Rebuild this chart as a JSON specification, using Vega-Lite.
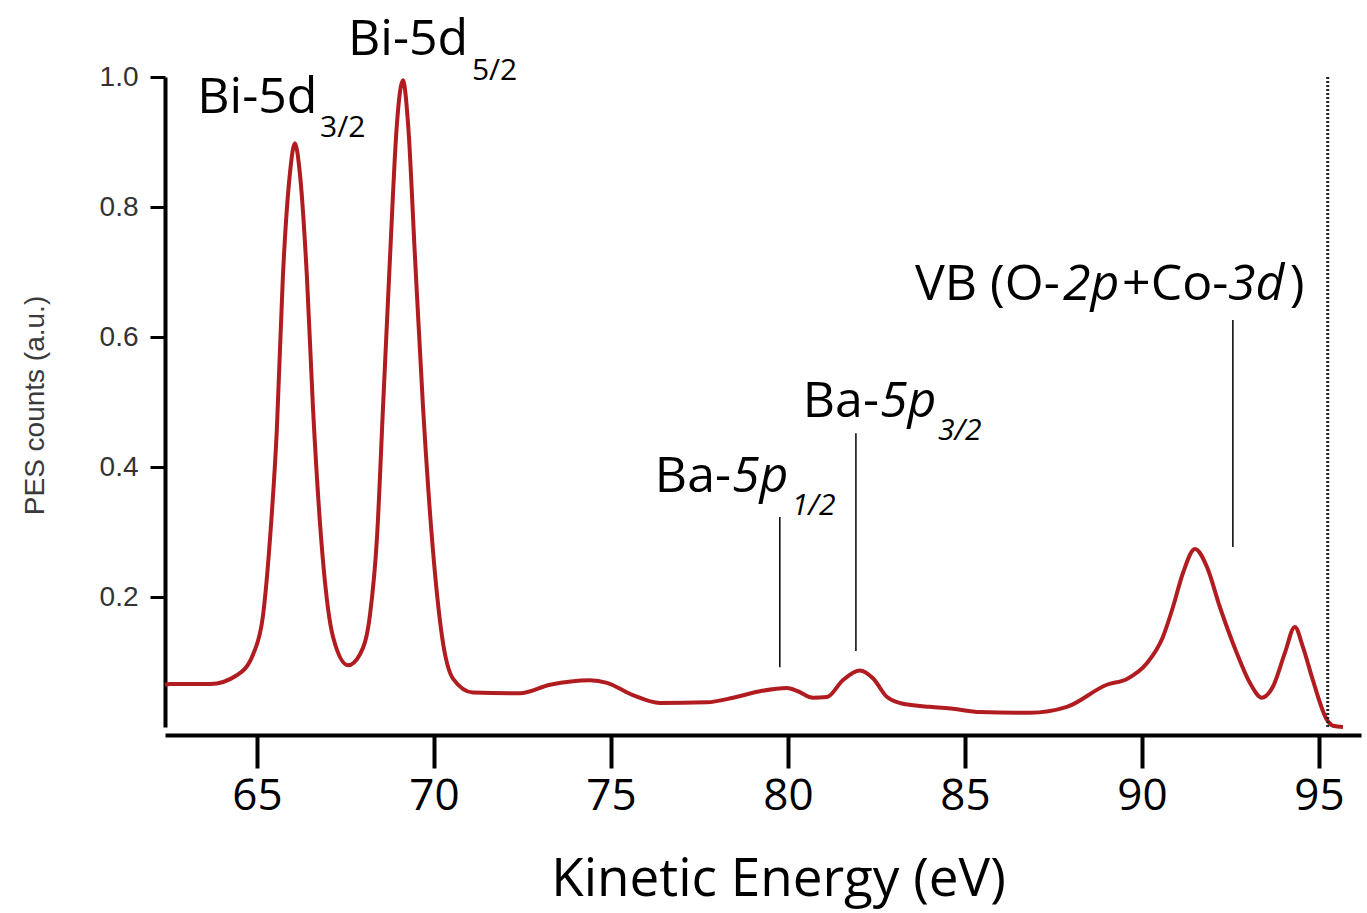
{
  "$schema": "https://vega.github.io/schema/vega-lite/v6.json",
  "autosize": {"type": "none"},
  "padding": {"left": 165, "top": 77, "right": 6, "bottom": 186},
  "width": 1196,
  "height": 650,
  "background": "white",
  "config": {"view": {"stroke": null}},
  "datasets": {
    "spectrum": [
      {"ke": 62.40, "counts": 0.065}, {"ke": 62.54, "counts": 0.066}, {"ke": 63.67, "counts": 0.066},
      {"ke": 64.44, "counts": 0.080}, {"ke": 64.89, "counts": 0.112}, {"ke": 65.17, "counts": 0.172},
      {"ke": 65.37, "counts": 0.292}, {"ke": 65.56, "counts": 0.458}, {"ke": 65.73, "counts": 0.692},
      {"ke": 65.93, "counts": 0.852}, {"ke": 66.07, "counts": 0.898}, {"ke": 66.21, "counts": 0.852},
      {"ke": 66.41, "counts": 0.692}, {"ke": 66.58, "counts": 0.492}, {"ke": 66.86, "counts": 0.258},
      {"ke": 67.15, "counts": 0.138}, {"ke": 67.57, "counts": 0.095}, {"ke": 67.91, "counts": 0.112},
      {"ke": 68.19, "counts": 0.172}, {"ke": 68.39, "counts": 0.292}, {"ke": 68.56, "counts": 0.492},
      {"ke": 68.76, "counts": 0.726}, {"ke": 68.95, "counts": 0.926}, {"ke": 69.12, "counts": 0.995},
      {"ke": 69.27, "counts": 0.926}, {"ke": 69.46, "counts": 0.726}, {"ke": 69.69, "counts": 0.492},
      {"ke": 69.94, "counts": 0.292}, {"ke": 70.23, "counts": 0.138}, {"ke": 70.54, "counts": 0.074},
      {"ke": 71.10, "counts": 0.053}, {"ke": 72.43, "counts": 0.052}, {"ke": 73.28, "counts": 0.065},
      {"ke": 74.41, "counts": 0.072}, {"ke": 74.89, "counts": 0.068}, {"ke": 75.62, "counts": 0.049},
      {"ke": 76.38, "counts": 0.037}, {"ke": 77.71, "counts": 0.038}, {"ke": 78.45, "counts": 0.045},
      {"ke": 79.21, "counts": 0.055}, {"ke": 79.97, "counts": 0.060}, {"ke": 80.28, "counts": 0.055},
      {"ke": 80.71, "counts": 0.045}, {"ke": 81.10, "counts": 0.046}, {"ke": 81.55, "counts": 0.072},
      {"ke": 82.03, "counts": 0.087}, {"ke": 82.40, "counts": 0.075}, {"ke": 82.80, "counts": 0.046},
      {"ke": 83.16, "counts": 0.037}, {"ke": 84.01, "counts": 0.031}, {"ke": 84.66, "counts": 0.028},
      {"ke": 85.42, "counts": 0.023}, {"ke": 86.84, "counts": 0.022}, {"ke": 87.88, "counts": 0.031},
      {"ke": 89.01, "counts": 0.065}, {"ke": 89.58, "counts": 0.074}, {"ke": 90.14, "counts": 0.098},
      {"ke": 90.59, "counts": 0.138}, {"ke": 90.88, "counts": 0.185}, {"ke": 91.16, "counts": 0.237},
      {"ke": 91.50, "counts": 0.274}, {"ke": 91.84, "counts": 0.246}, {"ke": 92.20, "counts": 0.185},
      {"ke": 92.68, "counts": 0.114}, {"ke": 93.05, "counts": 0.068}, {"ke": 93.39, "counts": 0.045},
      {"ke": 93.70, "counts": 0.062}, {"ke": 94.04, "counts": 0.114}, {"ke": 94.32, "counts": 0.154},
      {"ke": 94.55, "counts": 0.123}, {"ke": 94.83, "counts": 0.072}, {"ke": 95.23, "counts": 0.011},
      {"ke": 95.40, "counts": 0.002}, {"ke": 95.68, "counts": 0.0}
    ],
    "edge": [{"ke": 95.25, "y0": 0.0, "y1": 1.0}],
    "leaders": [
      {"ke": 79.77, "y0": 0.092, "y1": 0.323},
      {"ke": 81.92, "y0": 0.117, "y1": 0.452},
      {"ke": 92.57, "y0": 0.277, "y1": 0.626}
    ],
    "mainUpright": [
      {"ke": 63.31, "counts": 0.945, "label": "Bi-5d"},
      {"ke": 67.57, "counts": 1.034, "label": "Bi-5d"},
      {"ke": 76.24, "counts": 0.3615, "label": "Ba-"},
      {"ke": 80.42, "counts": 0.477, "label": "Ba-"},
      {"ke": 83.59, "counts": 0.657, "label": "VB (O-"},
      {"ke": 89.44, "counts": 0.657, "label": "+Co-"},
      {"ke": 94.18, "counts": 0.657, "label": ")"}
    ],
    "mainItalic": [
      {"ke": 78.42, "counts": 0.3615, "label": "5p"},
      {"ke": 82.60, "counts": 0.477, "label": "5p"},
      {"ke": 87.77, "counts": 0.657, "label": "2p"},
      {"ke": 92.43, "counts": 0.657, "label": "3d"}
    ],
    "subUpright": [
      {"ke": 66.78, "counts": 0.908, "label": "3/2"},
      {"ke": 71.07, "counts": 0.995, "label": "5/2"}
    ],
    "subItalic": [
      {"ke": 80.11, "counts": 0.326, "label": "1/2"},
      {"ke": 84.24, "counts": 0.4415, "label": "3/2"}
    ]
  },
  "layer": [
    {
      "data": {"name": "spectrum"},
      "mark": {"type": "line", "color": "#b01c20", "strokeWidth": 4, "interpolate": "monotone"},
      "encoding": {
        "x": {
          "field": "ke", "type": "quantitative",
          "scale": {"domain": [62.40, 96.19], "nice": false, "zero": false},
          "axis": {
            "values": [65, 70, 75, 80, 85, 90, 95],
            "grid": false,
            "offset": 8,
            "domainColor": "black", "domainWidth": 4,
            "tickColor": "black", "tickWidth": 4, "tickSize": 33,
            "labelFont": "Open Sans", "labelFontSize": 44, "labelColor": "black", "labelPadding": 6,
            "title": "Kinetic Energy (eV)",
            "titleFont": "Open Sans", "titleFontSize": 53, "titleFontWeight": "normal", "titleColor": "black",
            "titleBaseline": "alphabetic", "titleAlign": "center", "titleX": 613, "titleY": 160
          }
        },
        "y": {
          "field": "counts", "type": "quantitative",
          "scale": {"domain": [0, 1], "nice": false},
          "axis": {
            "values": [0.2, 0.4, 0.6, 0.8, 1.0],
            "format": ".1f",
            "grid": false,
            "domainColor": "black", "domainWidth": 4,
            "tickColor": "black", "tickWidth": 3, "tickSize": 15,
            "labelFont": "Liberation Sans", "labelFontSize": 28, "labelColor": "#333333", "labelPadding": 12,
            "title": "PES counts (a.u.)",
            "titleFont": "Liberation Sans", "titleFontSize": 28, "titleFontWeight": "normal", "titleColor": "#3a3a3a",
            "titleAngle": -90, "titleBaseline": "alphabetic", "titleAlign": "center",
            "titleX": -122, "titleY": 328
          }
        }
      }
    },
    {
      "data": {"name": "edge"},
      "mark": {"type": "rule", "color": "#222222", "strokeWidth": 3, "strokeDash": [2, 2]},
      "encoding": {
        "x": {"field": "ke", "type": "quantitative"},
        "y": {"field": "y0", "type": "quantitative"},
        "y2": {"field": "y1"}
      }
    },
    {
      "data": {"name": "leaders"},
      "mark": {"type": "rule", "color": "black", "strokeWidth": 1.5},
      "encoding": {
        "x": {"field": "ke", "type": "quantitative"},
        "y": {"field": "y0", "type": "quantitative"},
        "y2": {"field": "y1"}
      }
    },
    {
      "data": {"name": "mainUpright"},
      "mark": {"type": "text", "font": "Open Sans", "fontSize": 50, "align": "left", "baseline": "alphabetic", "color": "black"},
      "encoding": {
        "x": {"field": "ke", "type": "quantitative"},
        "y": {"field": "counts", "type": "quantitative"},
        "text": {"field": "label"}
      }
    },
    {
      "data": {"name": "mainItalic"},
      "mark": {"type": "text", "font": "Open Sans", "fontSize": 50, "fontStyle": "italic", "align": "left", "baseline": "alphabetic", "color": "black"},
      "encoding": {
        "x": {"field": "ke", "type": "quantitative"},
        "y": {"field": "counts", "type": "quantitative"},
        "text": {"field": "label"}
      }
    },
    {
      "data": {"name": "subUpright"},
      "mark": {"type": "text", "font": "Open Sans", "fontSize": 30, "align": "left", "baseline": "alphabetic", "color": "black"},
      "encoding": {
        "x": {"field": "ke", "type": "quantitative"},
        "y": {"field": "counts", "type": "quantitative"},
        "text": {"field": "label"}
      }
    },
    {
      "data": {"name": "subItalic"},
      "mark": {"type": "text", "font": "Open Sans", "fontSize": 30, "fontStyle": "italic", "align": "left", "baseline": "alphabetic", "color": "black"},
      "encoding": {
        "x": {"field": "ke", "type": "quantitative"},
        "y": {"field": "counts", "type": "quantitative"},
        "text": {"field": "label"}
      }
    }
  ]
}
